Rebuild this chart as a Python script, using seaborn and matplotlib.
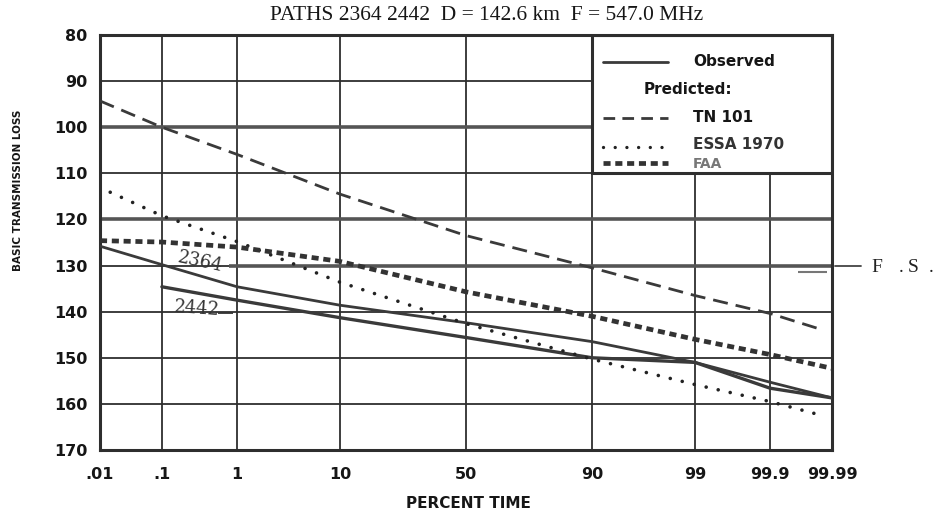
import numpy as np
import matplotlib
matplotlib.use("Agg")
import matplotlib.pyplot as plt
import seaborn as sns
from statistics import NormalDist
from matplotlib.patches import Rectangle

# ---------------- data ----------------
percent_ticks = [0.01, 0.1, 1, 10, 50, 90, 99, 99.9, 99.99]
percent_labels = [".01", ".1", "1", "10", "50", "90", "99", "99.9", "99.99"]
loss_ticks = [80, 90, 100, 110, 120, 130, 140, 150, 160, 170]

obs2364_x = [0.01, 0.1, 1, 10, 50, 90, 99, 99.9, 99.99]
obs2364_y = [125.8, 129.8, 134.6, 138.6, 142.4, 146.5, 151.0, 155.3, 158.7]

obs2442_x = [0.1, 1, 10, 50, 90, 99, 99.9, 99.99]
obs2442_y = [134.6, 137.5, 141.3, 145.6, 150.0, 151.0, 156.6, 158.7]

tn101_x = [0.01, 0.1, 1, 10, 50, 90, 99, 99.9, 99.985]
tn101_y = [94.3, 100.0, 105.9, 114.5, 123.5, 130.5, 136.5, 140.4, 143.9]

essa_x = [0.015, 0.1, 1, 10, 50, 90, 99, 99.9, 99.985]
essa_y = [114.1, 119.2, 124.8, 133.6, 142.6, 150.3, 155.8, 159.5, 162.5]

faa_x = [0.01, 0.1, 1, 10, 50, 90, 99, 99.9, 99.99]
faa_y = [124.6, 124.9, 126.0, 129.1, 135.7, 141.0, 146.0, 149.3, 152.3]

free_space = 130

title = "PATHS 2364 2442  D = 142.6 km  F = 547.0 MHz"

# ---------------- probability scale ----------------
_nd = NormalDist()

def _f1(v):
    if not np.isfinite(v):
        return np.nan
    v = min(max(v, 1e-9), 100 - 1e-9)
    return _nd.inv_cdf(v / 100.0)

def _i1(v):
    if np.isnan(v):
        return np.nan
    return _nd.cdf(v) * 100.0

_vf = np.vectorize(_f1, otypes=[float])
_vi = np.vectorize(_i1, otypes=[float])

def _fwd(p):
    p = np.asarray(p, dtype=float)
    if p.size == 0:
        return p
    return _vf(p)

def _inv(z):
    z = np.asarray(z, dtype=float)
    if z.size == 0:
        return z
    return _vi(z)

sns.set_theme(style="white")
plt.rcParams["font.family"] = ["DejaVu Sans"]

INK = "#2e2e2e"
LINE = "#3a3a3a"
TXT = "#161616"

fig = plt.figure(figsize=(9.42, 5.17), dpi=100)
ax = fig.add_axes([100 / 942, (517 - 450) / 517, 732 / 942, 415 / 517])
ax.set_xscale("function", functions=(_fwd, _inv))
ax.set_xlim(0.01, 99.99)
ax.set_ylim(170, 80)

# grid
ax.set_xticks(percent_ticks)
ax.set_xticklabels(percent_labels)
ax.set_yticks(loss_ticks)
ax.set_yticklabels([str(v) for v in loss_ticks])
ax.minorticks_off()
ax.grid(True, color=INK, lw=1.3)
ax.set_axisbelow(True)
ax.tick_params(axis="both", length=0, labelsize=11.5, colors=TXT)
ax.tick_params(axis="x", pad=12)
ax.tick_params(axis="y", pad=9)
for lab in ax.get_xticklabels() + ax.get_yticklabels():
    lab.set_fontweight("bold")
for sp in ax.spines.values():
    sp.set_color(INK)
    sp.set_linewidth(2.2)

# heavier redrawn lines
ax.hlines(100, 0.01, 90, color="#555555", lw=2.6, zorder=1.2)
ax.hlines(120, 0.01, 99.99, color="#555555", lw=2.6, zorder=1.2)
ax.hlines(free_space, 0.8, 99.99, color="#555555", lw=2.6, zorder=1.2)

# data lines
sns.lineplot(x=obs2364_x, y=obs2364_y, ax=ax, color=LINE, lw=2.0, zorder=3)
sns.lineplot(x=obs2442_x, y=obs2442_y, ax=ax, color=LINE, lw=2.4, zorder=3)
l_tn = sns.lineplot(x=tn101_x, y=tn101_y, ax=ax, color=LINE, lw=2.0, zorder=3).lines[-1]
l_tn.set_dashes((5.4, 2.9))
l_es = sns.lineplot(x=essa_x, y=essa_y, ax=ax, color="#222222", lw=2.6, zorder=3).lines[-1]
l_es.set_dashes((0.01, 3.4))
l_es.set_dash_capstyle("round")
l_fa = sns.lineplot(x=faa_x, y=faa_y, ax=ax, color="#333333", lw=3.4, zorder=3).lines[-1]
l_fa.set_dashes((1.5, 1.0))
l_fa.set_dash_capstyle("butt")

# curve labels
ax.text(0.35, 129.3, "2364", family="DejaVu Serif", fontsize=13, color="#333333",
        rotation=-12, ha="center", va="center", zorder=4)
ax.text(0.31, 139.4, "2442", family="DejaVu Serif", fontsize=13, color="#333333",
        rotation=-4, ha="center", va="center", zorder=4)
ax.hlines(140.3, 0.58, 0.9, color="#333333", lw=1.3, zorder=4)

# free-space marker
ax.hlines(131.4, 99.963, 99.988, color="#777777", lw=1.5, zorder=4)
ytr = ax.get_yaxis_transform()
ax.plot([1.004, 1.04], [free_space, free_space], color="#444444", lw=1.3,
        transform=ytr, clip_on=False)
for xp, s in [(871, "F"), (899, "."), (908, "S"), (929, ".")]:
    ax.text((xp - 100) / 732, free_space + 1.3, s, transform=ytr, family="Liberation Serif",
            fontsize=14, color="#222222", va="baseline", ha="left")

# legend box (covers cells 90-99.99 x 80-110)
ax.add_patch(Rectangle((90, 80), 99.99 - 90, 110 - 80, facecolor="white",
                       edgecolor=INK, lw=2.2, zorder=2))
tr = ax.transAxes
lx0, lx1, tx = 0.687, 0.776, 0.810
rows = [0.935, 0.868, 0.801, 0.731, 0.692]
LFS = 11
ax.plot([lx0, lx1], [rows[0]] * 2, transform=tr, color=LINE, lw=2.0, zorder=5)
ax.text(tx, rows[0], "Observed", transform=tr, fontsize=LFS, fontweight="bold",
        va="center", ha="left", zorder=5, color=TXT)
ax.text(0.742, rows[1], "Predicted:", transform=tr, fontsize=LFS, fontweight="bold",
        va="center", ha="left", zorder=5, color=TXT)
lt, = ax.plot([lx0, lx1], [rows[2]] * 2, transform=tr, color=LINE, lw=2.0, zorder=5)
lt.set_dashes((4.2, 2.6))
ax.text(tx, rows[2], "TN 101", transform=tr, fontsize=LFS, fontweight="bold",
        va="center", ha="left", zorder=5, color=TXT)
le, = ax.plot([lx0, lx1], [rows[3]] * 2, transform=tr, color="#222222", lw=2.4, zorder=5)
le.set_dashes((0.01, 3.5))
le.set_dash_capstyle("round")
ax.text(tx, rows[3] + 0.006, "ESSA 1970", transform=tr, fontsize=LFS, fontweight="bold",
        va="center", ha="left", zorder=5, color="#333333")
lf, = ax.plot([lx0, lx1], [rows[4]] * 2, transform=tr, color="#333333", lw=3.4, zorder=5)
lf.set_dashes((1.5, 1.0))
lf.set_dash_capstyle("butt")
ax.text(tx, rows[4] - 0.004, "FAA", transform=tr, fontsize=10, fontweight="bold",
        va="center", ha="left", zorder=5, color="#777777")

# titles / axis labels
fig.text(487 / 942, 1 - 16 / 517, title, family="Liberation Serif", fontsize=15.5,
         ha="center", va="center", color=TXT)
fig.text(468 / 942, 1 - 503 / 517, "PERCENT TIME", fontsize=11, fontweight="bold",
         ha="center", va="center", color=TXT)
fig.text(18 / 942, 1 - 190 / 517, "BASIC TRANSMISSION LOSS", fontsize=7.5, fontweight="bold",
         rotation=90, ha="center", va="center", color=TXT)

fig.savefig("out.png", dpi=100, facecolor="white")
